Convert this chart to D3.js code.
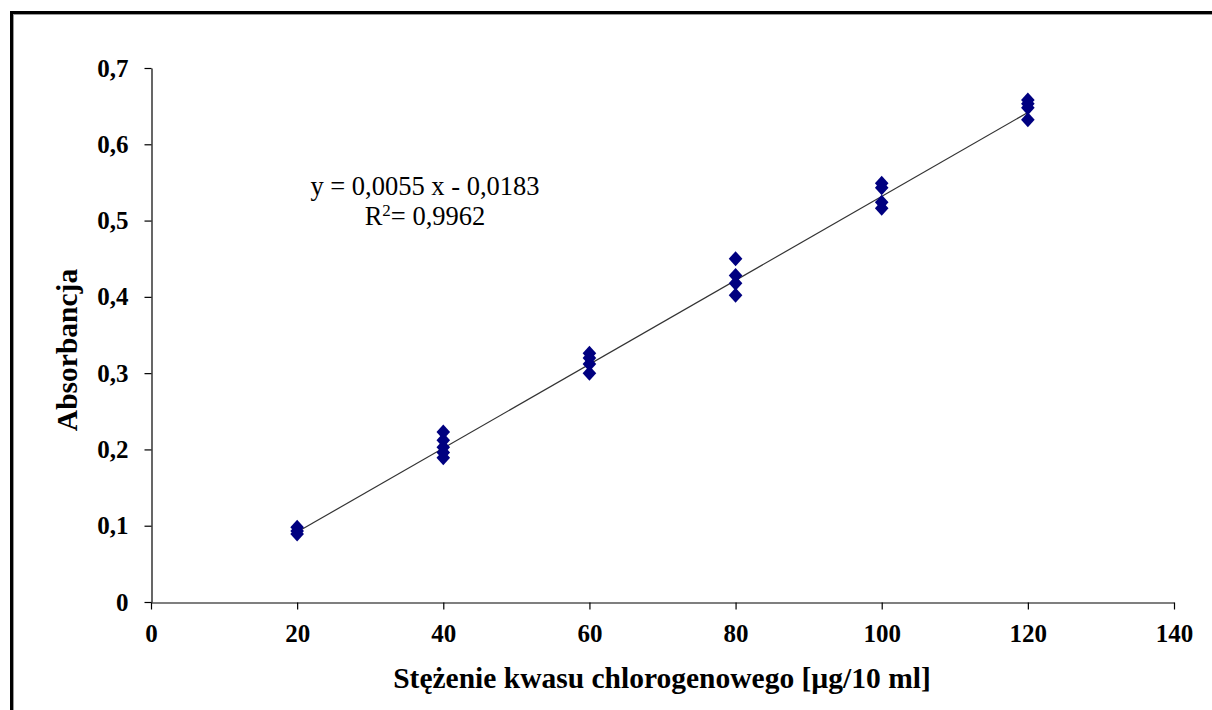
<!DOCTYPE html>
<html>
<head>
<meta charset="utf-8">
<script src="https://cdn.jsdelivr.net/npm/d3@7"></script>
<style>
  html, body { margin: 0; padding: 0; background: #fff; }
  svg { display: block; }
</style>
</head>
<body>
<svg id="chart" width="1212" height="710"></svg>
<script>
// Data
const concentrations = [20, 20, 20, 40, 40, 40, 40, 40, 60, 60, 60, 60, 80, 80, 80, 80, 100, 100, 100, 100, 120, 120, 120, 120];
const absorbances   = [0.098, 0.093, 0.089, 0.223, 0.212, 0.203, 0.196, 0.189, 0.326, 0.320, 0.312, 0.300, 0.450, 0.428, 0.418, 0.402, 0.549, 0.543, 0.524, 0.516, 0.658, 0.653, 0.648, 0.632];
const slope = 0.0055;
const intercept = -0.0183;
const trendRange = [20, 120];
const xTicks = [0, 20, 40, 60, 80, 100, 120, 140];
const yTicks = [0, 0.1, 0.2, 0.3, 0.4, 0.5, 0.6, 0.7];
const equationText = "y = 0,0055 x - 0,0183";
const r2Value = "0,9962";
const xTitle = "Stężenie kwasu chlorogenowego [µg/10 ml]";
const yTitle = "Absorbancja";

const svg = d3.select("#chart");
const serif = "'Liberation Serif', 'Times New Roman', serif";

// Frame (extends beyond window on right/bottom)
svg.append("rect").attr("x", 13.5).attr("y", 14.5).attr("width", 1300).attr("height", 800)
  .attr("fill", "none").attr("stroke", "#999").attr("stroke-width", 1);
svg.append("rect").attr("x", 11.5).attr("y", 12.5).attr("width", 1300).attr("height", 800)
  .attr("fill", "none").attr("stroke", "#000").attr("stroke-width", 3);

const x = d3.scaleLinear().domain([0, 140]).range([151, 1174]);
const y = d3.scaleLinear().domain([0, 0.7]).range([602, 68]);

const fmt = d => d3.format(".1f")(d).replace(".", ",");

// Y axis
const yAxis = svg.append("g").attr("transform", "translate(151.5,0)")
  .call(d3.axisLeft(y).tickValues(yTicks).tickSize(7).tickSizeOuter(0)
    .tickFormat(d => d === 0 ? "0" : fmt(d)));
// X axis
const xAxis = svg.append("g").attr("transform", "translate(0,602.5)")
  .call(d3.axisBottom(x).tickValues(xTicks).tickSize(7).tickSizeOuter(0).tickFormat(d3.format("d")));

[yAxis, xAxis].forEach(g => {
  g.selectAll("path, line").attr("stroke", "#000").attr("stroke-width", 1.2);
  g.selectAll("text").attr("font-family", serif).attr("font-weight", "bold")
    .attr("font-size", 25).attr("fill", "#000");
});
yAxis.selectAll("text").attr("x", -23);
xAxis.selectAll("text").attr("y", 22);

// Trendline
const trend = trendRange.map(v => [v, slope * v + intercept]);
svg.append("path").datum(trend)
  .attr("d", d3.line().x(d => x(d[0])).y(d => y(d[1])))
  .attr("stroke", "#333").attr("stroke-width", 1.2).attr("fill", "none");

// Markers (diamonds)
const diamond = "M0,-7.5L6.8,0L0,7.5L-6.8,0Z";
svg.append("g").selectAll("path").data(concentrations.map((c, i) => [c, absorbances[i]]))
  .join("path")
  .attr("d", diamond)
  .attr("transform", d => `translate(${x(d[0])},${y(d[1])})`)
  .attr("fill", "#000080");

// Equation
const eq = svg.append("g").attr("font-family", serif).attr("font-size", 26.5).attr("fill", "#000")
  .attr("text-anchor", "middle");
eq.append("text").attr("x", 425).attr("y", 195).text(equationText);
const r2 = eq.append("text").attr("x", 425).attr("y", 225);
r2.append("tspan").text("R");
r2.append("tspan").attr("font-size", 17).attr("dy", -9).text("2");
r2.append("tspan").attr("dy", 9).text("= " + r2Value);

// Axis titles
svg.append("text").attr("x", 662).attr("y", 688).attr("text-anchor", "middle")
  .attr("font-family", serif).attr("font-weight", "bold").attr("font-size", 29.5)
  .text(xTitle);
svg.append("text").attr("transform", "translate(77,350) rotate(-90)").attr("text-anchor", "middle")
  .attr("font-family", serif).attr("font-weight", "bold").attr("font-size", 29.5)
  .text(yTitle);
</script>
</body>
</html>
